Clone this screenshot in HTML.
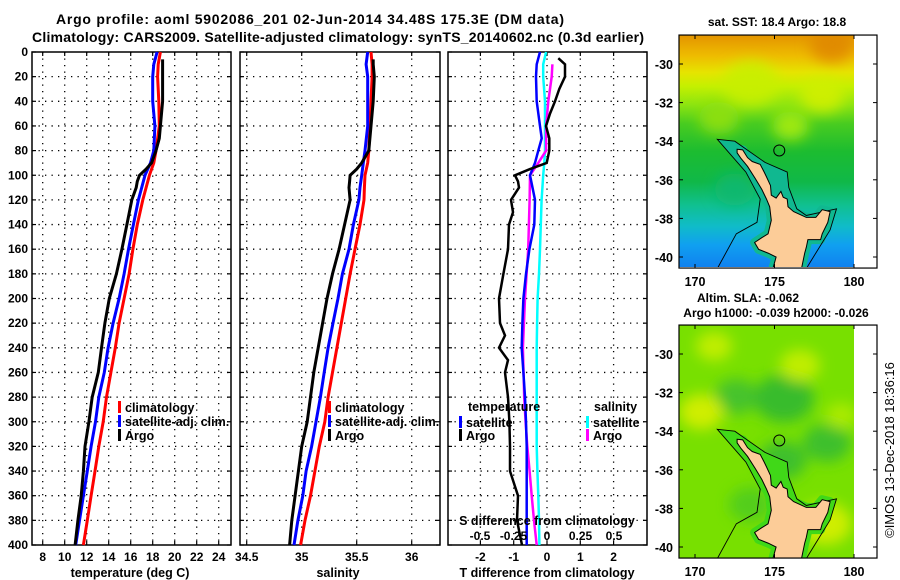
<!DOCTYPE html>
<html><head><meta charset="utf-8"><style>
html,body{margin:0;padding:0;background:#fff;width:900px;height:580px;overflow:hidden}
svg{display:block;font-family:"Liberation Sans",Arial,sans-serif;font-weight:bold}
</style></head><body>
<svg id="fig" width="900" height="580" viewBox="0 0 900 580">
<defs>
<filter id="blur6" x="-50%" y="-50%" width="200%" height="200%"><feGaussianBlur stdDeviation="7"/></filter>
<linearGradient id="sstGrad" x1="0" y1="0" x2="0" y2="1">
<stop offset="0" stop-color="#e49400"/><stop offset="0.09" stop-color="#eebc00"/>
<stop offset="0.16" stop-color="#e6e400"/><stop offset="0.22" stop-color="#c4f000"/>
<stop offset="0.3" stop-color="#8ce410"/><stop offset="0.38" stop-color="#48cc20"/>
<stop offset="0.5" stop-color="#1cbc30"/><stop offset="0.63" stop-color="#10b848"/>
<stop offset="0.73" stop-color="#10c090"/><stop offset="0.82" stop-color="#10bcc8"/>
<stop offset="0.9" stop-color="#10a0f0"/><stop offset="1" stop-color="#1080f0"/>
</linearGradient>
<clipPath id="clip1"><rect x="679" y="35" width="175" height="232"/></clipPath>
<clipPath id="clip2"><rect x="679" y="325" width="175" height="233"/></clipPath>
</defs>
<text x="310" y="24" text-anchor="middle" font-size="14" textLength="508">Argo profile: aoml 5902086_201 02-Jun-2014 34.48S 175.3E (DM data)</text>
<text x="338" y="42" text-anchor="middle" font-size="14" textLength="612">Climatology: CARS2009. Satellite-adjusted climatology: synTS_20140602.nc (0.3d earlier)</text>
<g id="panels"></g>
<g id="maps"></g>
<text transform="translate(894,450) rotate(-90)" text-anchor="middle" font-size="13" font-weight="normal">©IMOS 13-Dec-2018 18:36:16</text>
</svg>
<script>
// ---- data ----
const depthTicks = [0,20,40,60,80,100,120,140,160,180,200,220,240,260,280,300,320,340,360,380,400];
const tempTicks = [8,10,12,14,16,18,20,22,24];
const salTicks = [34.5,35,35.5,36];
const salTickLabels = ["34.5","35","35.5","36"];
const tdiffTicks = [-2,-1,0,1,2];
const sdiffTicks = [-0.5,-0.25,0,0.25,0.5];
const sdiffTickLabels = ["-0.5","-0.25","0","0.25","0.5"];

const climDepth = [0,10,20,40,60,80,90,100,110,120,140,160,180,200,220,240,260,280,300,320,340,360,380,400];
const tClim = [18.7,18.5,18.45,18.55,18.6,18.3,18.1,17.7,17.4,17.1,16.6,16.2,15.85,15.4,14.95,14.6,14.2,13.8,13.5,13.1,12.75,12.4,12.05,11.7];
const tSat = [18.4,18.1,18.0,18.0,18.2,18.1,17.8,17.3,17.0,16.7,16.25,15.8,15.4,14.95,14.4,13.95,13.6,13.1,12.8,12.4,12.05,11.7,11.35,11.0];
const sClim = [35.63,35.64,35.64,35.63,35.62,35.61,35.60,35.575,35.57,35.566,35.53,35.485,35.44,35.40,35.36,35.32,35.28,35.24,35.21,35.16,35.12,35.08,35.03,34.99];
const sSat = [35.60,35.585,35.60,35.60,35.60,35.575,35.56,35.545,35.53,35.52,35.47,35.43,35.37,35.33,35.285,35.24,35.205,35.17,35.13,35.09,35.04,35.01,34.965,34.93];
const argoDepth = [6,10,20,40,60,70,80,90,95,100,105,110,120,140,160,180,200,220,240,260,280,300,320,340,360,380,400];
const tArgo = [18.9,18.9,18.9,18.9,18.7,18.6,18.3,17.9,17.4,16.8,16.6,16.5,16.1,15.65,15.2,14.7,14.05,13.65,13.35,13.05,12.5,12.2,11.85,11.7,11.5,11.2,10.95];
const sArgo = [35.65,35.65,35.66,35.65,35.63,35.62,35.61,35.545,35.5,35.44,35.435,35.43,35.44,35.39,35.34,35.28,35.23,35.19,35.15,35.11,35.08,35.05,35.0,34.97,34.94,34.91,34.89];

const diffDepth = [0,10,20,40,60,70,80,90,100,120,140,160,180,200,220,240,260,280,300,320,340,360,380,400];
const dTSat = [-0.21,-0.31,-0.33,-0.31,-0.21,-0.16,-0.26,-0.36,-0.51,-0.36,-0.38,-0.53,-0.63,-0.71,-0.74,-0.76,-0.71,-0.66,-0.63,-0.61,-0.61,-0.61,-0.61,-0.61];
const dSSat = [-0.007,-0.028,-0.028,-0.015,-0.015,-0.015,-0.015,-0.02,-0.028,-0.04,-0.046,-0.052,-0.06,-0.07,-0.074,-0.077,-0.077,-0.077,-0.077,-0.077,-0.072,-0.065,-0.06,-0.057];
const dTArgoDepth = [5,10,20,30,40,50,60,70,80,90,95,100,105,110,120,130,140,160,180,200,220,230,240,250,260,280,300,320,340,360,380,400];
const dTArgo = [0.34,0.54,0.54,0.37,0.24,0.09,-0.03,0.07,0.07,-0.01,-0.51,-0.96,-0.87,-0.84,-1.08,-1.02,-1.14,-1.17,-1.31,-1.44,-1.41,-1.26,-1.44,-1.17,-1.26,-1.17,-1.13,-1.11,-1.11,-0.87,-0.9,-0.75];
const dSArgoDepth = [10,20,40,60,80,90,100,120,160,200,240,280,300,320,340,360,380,400];
const dSArgo = [0.04,0.035,0.01,-0.007,-0.007,-0.065,-0.127,-0.13,-0.14,-0.164,-0.18,-0.17,-0.16,-0.147,-0.13,-0.114,-0.097,-0.077];

const mapLonTicks = [170,175,180];
const mapLatTicks = [-30,-32,-34,-36,-38,-40];
const floatLon = 175.3, floatLat = -34.48;

// ---- helpers ----
const NS = "http://www.w3.org/2000/svg";
function mk(tag, attrs, parent){ const e=document.createElementNS(NS,tag); for(const k in attrs) e.setAttribute(k,attrs[k]); parent.appendChild(e); return e; }
const yTop=52, yBot=545;
const yScale = d => yTop + d*(yBot-yTop)/400;
const panels = document.getElementById('panels');

function panelFrame(x0,x1,name,xTicksPos){
  const g = mk('g',{},panels);
  
  
  depthTicks.forEach(d=>{ const y=yScale(d);
    if(d>0 && d<400) mk('line',{x1:x0,x2:x1,y1:y,y2:y,stroke:'#000','stroke-width':1.3,'stroke-dasharray':'1.3 5.2'},g);
    mk('line',{x1:x0,x2:x0+4,y1:y,y2:y,stroke:'#000','stroke-width':1.2},g);
    mk('line',{x1:x1-4,x2:x1,y1:y,y2:y,stroke:'#000','stroke-width':1.2},g);
  });
  xTicksPos.forEach(x=>{
    mk('line',{x1:x,x2:x,y1:yTop,y2:yBot,stroke:'#000','stroke-width':1.3,'stroke-dasharray':'1.3 5.2'},g);
    mk('line',{x1:x,x2:x,y1:yBot-4,y2:yBot,stroke:'#000','stroke-width':1.2},g);
    mk('line',{x1:x,x2:x,y1:yTop,y2:yTop+4,stroke:'#000','stroke-width':1.2},g);
  });
  mk('rect',{x:x0,y:yTop,width:x1-x0,height:yBot-yTop,fill:'none',stroke:'#000','stroke-width':1.5},g);
  return g;
}
function line(g,xs,ds,sx,color,w,name){
  const pts = xs.map((v,i)=>sx(v).toFixed(1)+','+yScale(ds[i]).toFixed(1)).join(' ');
  const p = mk('polyline',{points:pts,fill:'none',stroke:color,'stroke-width':w,'stroke-linejoin':'miter'},g);
  
  
}
function txt(g,x,y,s,size,anchor,fill){ const t=mk('text',{x:x,y:y,'font-size':size,'text-anchor':anchor||'start',fill:fill||'#000'},g); t.textContent=s; return t; }
function legendEntry(g,x,y,color,label,name){
  const e = mk('g',{},g);
  
  
  mk('rect',{x:x,y:y-6,width:3,height:12,fill:color},e);
  txt(e,x+7,y+5,label,12.5);
}

// ---- temperature panel ----
const sxT = v => 42.7 + (v-8)*11;
const gT = panelFrame(32,231,'temperature-panel',tempTicks.map(sxT));
depthTicks.forEach(d=>{ const t=txt(gT,28,yScale(d)+4,String(d),12,'end');
  
   });
tempTicks.forEach(v=>{ const t=txt(gT,sxT(v),561,String(v),12,'middle');
  
   });
line(gT,tClim,climDepth,sxT,'#ff0000',3,'temperature-climatology-line');
line(gT,tSat,climDepth,sxT,'#0000ff',3,'temperature-satellite-line');
line(gT,tArgo,argoDepth,sxT,'#000000',3,'temperature-argo-line');
legendEntry(gT,118,407,'#ff0000','climatology','legend-climatology');
legendEntry(gT,118,421,'#0000ff','satellite-adj. clim.','legend-satellite-adj');
legendEntry(gT,118,435,'#000000','Argo','legend-argo');
const xlT = txt(gT,130,577,'temperature (deg C)',12.5,'middle');



// ---- salinity panel ----
const sxS = v => 301.7 + (v-35)*110;
const gS = panelFrame(240,440,'salinity-panel',salTicks.map(sxS));
salTicks.forEach((v,i)=>{ const t=txt(gS,sxS(v),561,salTickLabels[i],12,'middle');
  
   });
line(gS,sClim,climDepth,sxS,'#ff0000',3,'salinity-climatology-line');
line(gS,sSat,climDepth,sxS,'#0000ff',3,'salinity-satellite-line');
line(gS,sArgo,argoDepth,sxS,'#000000',3,'salinity-argo-line');
legendEntry(gS,328,407,'#ff0000','climatology','legend-climatology-s');
legendEntry(gS,328,421,'#0000ff','satellite-adj. clim.','legend-satellite-adj-s');
legendEntry(gS,328,435,'#000000','Argo','legend-argo-s');
const xlS = txt(gS,338,577,'salinity',12.5,'middle');



// ---- difference panel ----
const sxD = v => 547 + v*33.3;
const sxDS = v => 547 + v*134;
const gD = panelFrame(448,647,'difference-panel',tdiffTicks.map(sxD));
tdiffTicks.forEach(v=>{ const t=txt(gD,sxD(v),561,String(v),12,'middle');
  
   });
line(gD,dSSat,diffDepth,sxDS,'#00ffff',2.5,'salinity-diff-satellite-line');
line(gD,dSArgo,dSArgoDepth,sxDS,'#ff00ff',2.5,'salinity-diff-argo-line');
line(gD,dTSat,diffDepth,sxD,'#0000ff',2.5,'temperature-diff-satellite-line');
line(gD,dTArgo,dTArgoDepth,sxD,'#000000',2.5,'temperature-diff-argo-line');
const tl1 = txt(gD,468,411,'temperature',12.5);


const tl2 = txt(gD,594,411,'salinity',12.5);


legendEntry(gD,459,422,'#0000ff','satellite','legend-t-satellite');
legendEntry(gD,459,435,'#000000','Argo','legend-t-argo');
legendEntry(gD,586,422,'#00ffff','satellite','legend-s-satellite');
legendEntry(gD,586,435,'#ff00ff','Argo','legend-s-argo');
const sdt = txt(gD,547,525,'S difference from climatology',12.5,'middle');


sdiffTicks.forEach((v,i)=>{ const t=txt(gD,sxDS(v),540,sdiffTickLabels[i],12,'middle');
  
   });
const xlD = txt(gD,547,577,'T difference from climatology',12.5,'middle');



// ---- maps ----
const maps = document.getElementById('maps');
const land = [[172.65,-34.42],[173.0,-34.45],[173.3,-34.85],[173.6,-35.05],[174.1,-35.2],[174.35,-35.6],[174.5,-35.85],[174.75,-36.3],[174.8,-36.8],[175.1,-36.95],[175.4,-36.6],[175.55,-36.9],[175.8,-37.0],[175.85,-37.4],[176.2,-37.65],[177.0,-37.95],[177.6,-37.95],[178.0,-37.55],[178.5,-37.65],[178.35,-38.2],[178.0,-38.8],[177.9,-39.1],[177.1,-39.1],[177.0,-39.5],[176.9,-39.8],[176.7,-40.6],[174.9,-40.6],[175.1,-40.0],[174.6,-39.8],[174.0,-39.6],[173.75,-39.25],[174.2,-39.0],[174.6,-38.8],[174.8,-38.1],[174.7,-37.4],[174.5,-37.0],[174.2,-36.5],[173.8,-35.95],[173.3,-35.3],[172.9,-34.9],[172.65,-34.6]];
const contour = [[171.4,-40.6],[172.6,-38.8],[173.9,-38.2],[174.1,-37.0],[173.2,-35.6],[171.4,-33.9],[172.5,-34.0],[174.4,-35.1],[175.8,-35.6],[175.9,-36.4],[176.4,-37.5],[177.0,-37.85],[178.9,-37.5],[178.5,-38.6],[177.6,-39.8],[177.0,-40.6]];
const shelfFill = [[171.4,-33.9],[172.5,-34.0],[174.4,-35.1],[175.8,-35.6],[175.9,-36.4],[176.4,-37.5],[177.0,-37.85],[178.9,-37.5],[178.5,-38.6],[177.9,-39.1],[175.0,-38.0],[174.1,-37.0],[173.2,-35.6]];
const sstBlobs = [[173.5,-31.0,'#c8f000',28],[178.0,-31.6,'#d0f000',22],[171.5,-32.8,'#90e010',20],[176.0,-33.2,'#a8ec08',18],[178.6,-29.0,'#e08800',22],[172.5,-36.5,'#10b870',20]];
const slaBlobs = [[175.6,-32.3,'#30b830',30],[172.6,-32.2,'#40c030',22],[178.3,-34.6,'#38bc30',24],[175.5,-35.5,'#38bc30',24],[170.4,-33.0,'#d8f000',22],[178.2,-38.8,'#d8f000',26],[171.2,-29.6,'#c8f000',18],[176.6,-30.6,'#c8f000',20],[173.5,-37.8,'#50cc20',22],[179.2,-33.2,'#b0ec00',16]];

function drawMap(y0, latTop, clipId, name, base, blobs, shelfColor, titles){
  const g = mk('g',{},maps);
  
  
  const lx = lon => 695 + (lon-170)*15.9;
  const ly = lat => y0 + (-30-lat)*19.3;
  const inner = mk('g',{'clip-path':'url(#'+clipId+')'},g);
  const topY = ly(latTop);
  mk('rect',{x:679,y:topY,width:175,height:233,fill:base},inner);
  const bg = mk('g',{filter:'url(#blur6)'},inner);
  blobs.forEach(b=>mk('ellipse',{cx:lx(b[0]),cy:ly(b[1]),rx:b[3],ry:b[3]*0.8,fill:b[2],opacity:0.9},bg));
  const toPts = arr => arr.map(p=>lx(p[0]).toFixed(1)+','+ly(p[1]).toFixed(1)).join(' ');
  const sf = mk('polygon',{points:toPts(shelfFill),fill:shelfColor},inner);
  
  
  mk('polygon',{points:toPts(land),fill:'none',stroke:shelfColor,'stroke-width':9,'stroke-linejoin':'round'},inner);
  const sh = mk('polyline',{points:toPts(contour),fill:'none',stroke:'#000','stroke-width':0.9},inner);
  
  
  const ld = mk('polygon',{points:toPts(land),fill:'#fccc98',stroke:'#000','stroke-width':1},inner);
  
  
  const c = mk('circle',{cx:lx(floatLon),cy:ly(floatLat),r:5.5,fill:'none',stroke:'#000','stroke-width':1},g);
  
  
  mk('rect',{x:679,y:topY,width:198,height:233,fill:'none',stroke:'#000','stroke-width':1.2},g);
  mapLatTicks.forEach(l=>{ const y=ly(l);
    mk('line',{x1:679,x2:683,y1:y,y2:y,stroke:'#000'},g);
    mk('line',{x1:873,x2:877,y1:y,y2:y,stroke:'#000'},g);
    const t=txt(g,673,y+5,String(l),12.5,'end');
    
     });
  mapLonTicks.forEach(l=>{ const x=lx(l);
    mk('line',{x1:x,x2:x,y1:topY,y2:topY+4,stroke:'#000'},g);
    mk('line',{x1:x,x2:x,y1:topY+229,y2:topY+233,stroke:'#000'},g);
    const t=txt(g,x,topY+251,String(l),12.5,'middle');
    
     });
  titles.forEach(tt=>{ const t=txt(g,tt[1],tt[2],tt[0],12,'middle');
    
     });
}
drawMap(64,-28.5,'clip1','sst-map','url(#sstGrad)',sstBlobs,'#10b890',[['sat. SST: 18.4 Argo: 18.8',777,26]]);
drawMap(354,-28.5,'clip2','sla-map','#78e000',slaBlobs,'#40d818',[['Altim. SLA: -0.062',748,302],['Argo h1000: -0.039 h2000: -0.026',776,317]]);
</script>
</body></html>
